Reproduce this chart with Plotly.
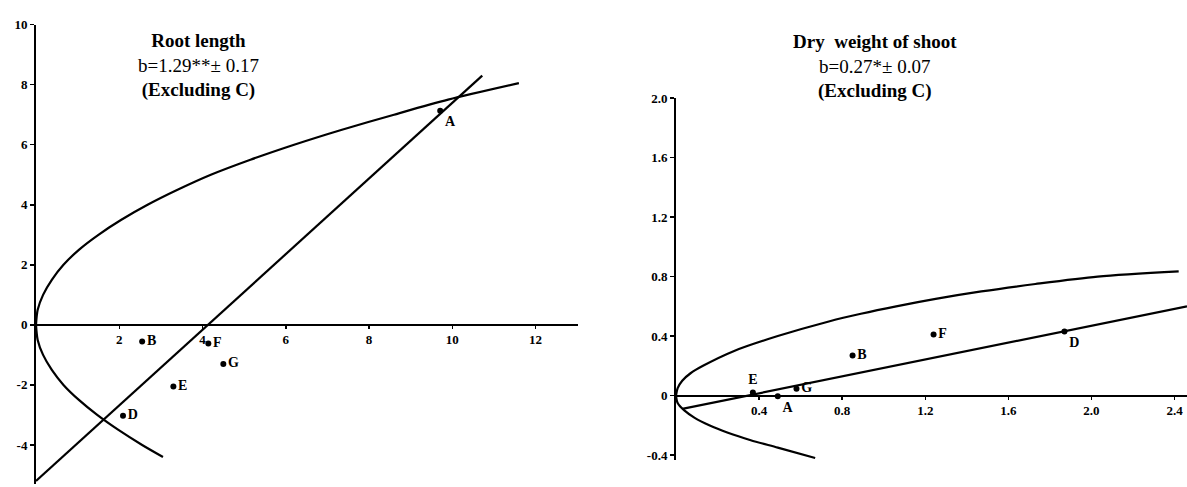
import plotly.graph_objects as go

W, H = 1187, 487

# ---------------- Left panel: Root length ----------------
root_labels = ["A", "B", "D", "E", "F", "G"]
root_vr = [9.71, 2.55, 2.09, 3.30, 4.14, 4.50]
root_wr = [7.13, -0.55, -3.03, -2.05, -0.62, -1.30]

# limiting parabola (upper and lower branches)
root_par_wr_up = [0, 0.5, 1, 1.5, 2, 2.5, 3, 3.5, 4, 4.5, 5, 5.5, 6, 6.5, 7, 7.5, 8.05]
root_par_vr_up = [0, 0.04, 0.17, 0.38, 0.66, 1.03, 1.5, 2.05, 2.68, 3.4, 4.2, 5.15, 6.2, 7.35, 8.6, 9.9, 11.6]
root_par_wr_lo = [0, -0.5, -1, -1.5, -2, -2.5, -3, -3.5, -4, -4.4]
root_par_vr_lo = [0, 0.04, 0.17, 0.38, 0.66, 1.03, 1.47, 1.98, 2.55, 3.05]

root_reg_vr = [0, 10.72]
root_reg_wr = [-5.2, 8.3]

root_xticks = [2, 4, 6, 8, 10, 12]
root_yticks = [-4, -2, 0, 2, 4, 6, 8, 10]
root_title = ["Root length", "b=1.29**± 0.17", "(Excluding C)"]

# ---------------- Right panel: Dry weight of shoot ----------------
shoot_labels = ["A", "B", "D", "E", "F", "G"]
shoot_vr = [0.49, 0.85, 1.87, 0.37, 1.24, 0.58]
shoot_wr = [-0.005, 0.27, 0.43, 0.02, 0.41, 0.045]

shoot_par_wr_up = [0, 0.05, 0.1, 0.15, 0.2, 0.3, 0.4, 0.5, 0.55, 0.6, 0.65, 0.7, 0.75, 0.8, 0.835]
shoot_par_vr_up = [0, 0.008, 0.03, 0.07, 0.13, 0.28, 0.49, 0.74, 0.89, 1.06, 1.25, 1.47, 1.73, 2.03, 2.42]
shoot_par_wr_lo = [0, -0.05, -0.1, -0.15, -0.2, -0.25, -0.3, -0.35, -0.42]
shoot_par_vr_lo = [0, 0.008, 0.04, 0.09, 0.16, 0.25, 0.36, 0.49, 0.67]

shoot_reg_vr = [0.03, 2.46]
shoot_reg_wr = [-0.09, 0.60]

shoot_xticks = [0.4, 0.8, 1.2, 1.6, 2.0, 2.4]
shoot_yticks = [-0.4, 0, 0.4, 0.8, 1.2, 1.6, 2.0]
shoot_title = ["Dry  weight of shoot", "b=0.27*± 0.07", "(Excluding C)"]

# ---------------- Figure ----------------
SERIF = "Liberation Serif"
fig = go.Figure()

def add_panel(xa, ya, vr, wr, labels, pos, pu_x, pu_y, pl_x, pl_y, rx, ry):
    line = dict(color="black", width=2.2)
    fig.add_trace(go.Scatter(x=pu_x, y=pu_y, mode="lines",
                             line=dict(shape="spline", smoothing=0.8, **line),
                             xaxis=xa, yaxis=ya, hoverinfo="skip"))
    fig.add_trace(go.Scatter(x=pl_x, y=pl_y, mode="lines",
                             line=dict(shape="spline", smoothing=0.8, **line),
                             xaxis=xa, yaxis=ya, hoverinfo="skip"))
    fig.add_trace(go.Scatter(x=rx, y=ry, mode="lines", line=line, xaxis=xa, yaxis=ya,
                             hoverinfo="skip"))
    fig.add_trace(go.Scatter(x=vr, y=wr, mode="markers+text", text=labels,
                             textposition=pos,
                             textfont=dict(family=SERIF, size=14, color="black", weight="bold"),
                             marker=dict(color="black", size=6),
                             xaxis=xa, yaxis=ya))

add_panel("x", "y", root_vr, root_wr, root_labels,
          ["bottom right", "middle right", "middle right", "middle right", "middle right", "middle right"],
          root_par_vr_up, root_par_wr_up, root_par_vr_lo, root_par_wr_lo, root_reg_vr, root_reg_wr)
add_panel("x2", "y2", shoot_vr, shoot_wr, shoot_labels,
          ["bottom right", "middle right", "bottom right", "top center", "middle right", "middle right"],
          shoot_par_vr_up, shoot_par_wr_up, shoot_par_vr_lo, shoot_par_wr_lo, shoot_reg_vr, shoot_reg_wr)

# pixel geometry
L_x0, L_x1 = 36, 578
L_ytop, L_ybot = 18, 487
L_xr = [0, 13.02]
L_yr = [-5.3, 10]

R_x0, R_x1 = 676, 1187
R_ytop, R_ybot = 93, 462
R_xr = [0, 2.46]
R_yr = [-0.43, 2.0]

def ydom(top, bot):
    return [(H - bot) / H, (H - top) / H]

def zero_pos(dom, rng):
    return dom[0] + (0 - rng[0]) / (rng[1] - rng[0]) * (dom[1] - dom[0])

L_ydom = ydom(L_ytop, L_ybot)
R_ydom = ydom(R_ytop, R_ybot)

tickfont = dict(family=SERIF, size=13, color="black", weight="bold")
axis_common = dict(showgrid=False, zeroline=False, showline=True, linecolor="black",
                   linewidth=2, ticks="outside", tickcolor="black", tickwidth=1.5,
                   tickfont=tickfont, fixedrange=True, ticklabeloverflow="allow")

fig.update_layout(
    width=W, height=H, showlegend=False,
    paper_bgcolor="white", plot_bgcolor="white",
    margin=dict(l=0, r=0, t=0, b=0),
    xaxis=dict(domain=[L_x0 / W, L_x1 / W], range=L_xr, anchor="free",
               position=zero_pos(L_ydom, L_yr), tickvals=root_xticks,
               ticktext=[str(v) for v in root_xticks], ticklen=3, **axis_common),
    yaxis=dict(domain=L_ydom, range=L_yr, anchor="x", tickvals=root_yticks,
               ticktext=[str(v) for v in root_yticks], ticklen=4, **axis_common),
    xaxis2=dict(domain=[R_x0 / W, R_x1 / W], range=R_xr, anchor="free",
                position=zero_pos(R_ydom, R_yr), tickvals=shoot_xticks,
                ticktext=[f"{v:.1f}" for v in shoot_xticks], ticklen=3, **axis_common),
    yaxis2=dict(domain=R_ydom, range=R_yr, anchor="x2", tickvals=shoot_yticks,
                ticktext=["0" if v == 0 else f"{v:.1f}" for v in shoot_yticks], ticklen=4,
                **axis_common),
)

def add_title(lines, cx, cy):
    txt = "<b>%s</b><br>%s<br><b>%s</b>" % tuple(lines)
    fig.add_annotation(text=txt, x=cx / W, y=1 - cy / H, xref="paper", yref="paper",
                       xanchor="center", yanchor="middle", align="center", showarrow=False,
                       font=dict(family=SERIF, size=19, color="black"))

add_title(root_title, 198, 60)
add_title(shoot_title, 875, 61)

fig.write_html("out.html", config={"displayModeBar": False, "staticPlot": True},
               post_script="document.body.style.margin='0';document.body.style.overflow='hidden';")
